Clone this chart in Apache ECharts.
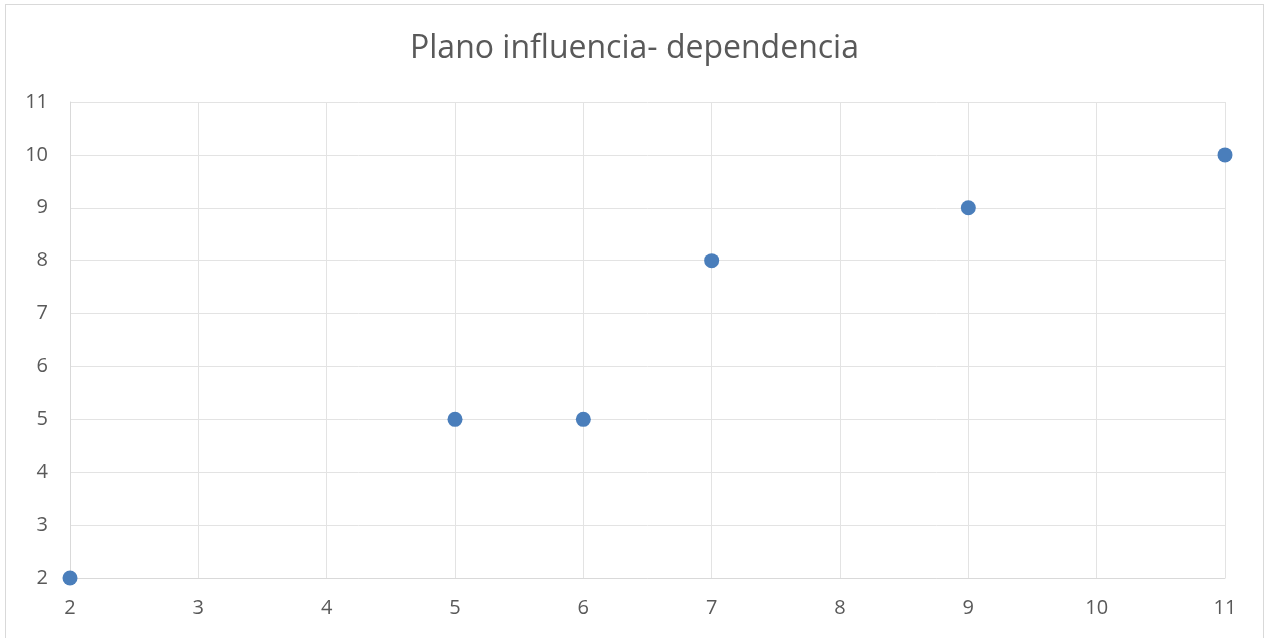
<!DOCTYPE html>
<html><head><meta charset="utf-8">
<script src="https://cdn.jsdelivr.net/npm/echarts@6/dist/echarts.min.js"></script>
<style>
html,body{margin:0;padding:0;background:#fff;}
#frame{position:absolute;left:5px;top:4px;width:1259px;height:640px;border:1.5px solid #d9d9d9;box-sizing:border-box;}
#c{position:absolute;left:0;top:0;width:1269px;height:638px;}
</style></head>
<body>
<div id="frame"></div>
<div id="c"></div>
<script>
const titleText = "Plano influencia- dependencia";
const xValues = [2, 5, 6, 7, 9, 11];
const yValues = [2, 5, 5, 8, 9, 10];
const axisMin = 2, axisMax = 11, axisStep = 1;

const chart = echarts.init(document.getElementById('c'));
chart.setOption({
  animation: false,
  title: {text: titleText, left: 'center', top: 28,
    textStyle: {fontFamily: 'Open Sans', fontWeight: 'normal', fontSize: 32, color: '#595959'}},
  grid: {left: 70, right: 44, top: 102, bottom: 60},
  xAxis: {type: 'value', min: axisMin, max: axisMax, interval: axisStep,
    axisLine: {lineStyle: {color: '#d9d9d9', width: 1}},
    axisTick: {show: false},
    axisLabel: {color: '#595959', fontSize: 20, fontFamily: 'Open Sans', margin: 20},
    splitLine: {lineStyle: {color: '#e3e3e3', width: 1}}},
  yAxis: {type: 'value', min: axisMin, max: axisMax, interval: axisStep,
    axisLine: {show: true, lineStyle: {color: '#d9d9d9', width: 1}},
    axisTick: {show: false},
    axisLabel: {color: '#595959', fontSize: 20, fontFamily: 'Open Sans', margin: 22},
    splitLine: {lineStyle: {color: '#e3e3e3', width: 1}}},
  series: [{type: 'scatter', symbolSize: 15,
    itemStyle: {color: '#4a7ebb', opacity: 1},
    data: xValues.map((x, i) => [x, yValues[i]])}]
});
</script>
</body></html>
